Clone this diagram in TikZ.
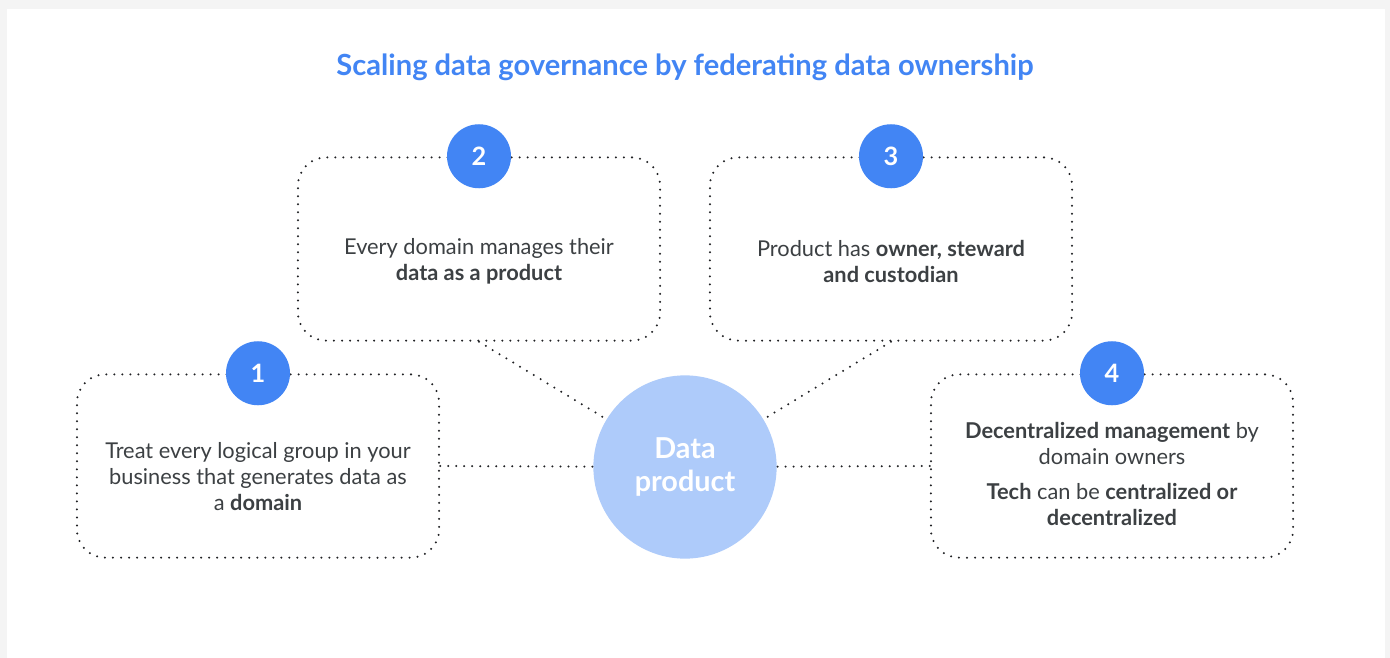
\documentclass[tikz,border=0pt]{standalone}
\usepackage{fontspec}
\setmainfont{Lato}
\usepackage{tikz}
\definecolor{gblue}{HTML}{4285F4}
\definecolor{lblue}{HTML}{AECBFA}
\definecolor{txtgray}{HTML}{3C4043}
\definecolor{dotgray}{HTML}{202124}
\definecolor{pagegray}{HTML}{F4F4F4}
\tikzstyle{box} = [rectangle, draw=dotgray, line width=1.6pt,
                 dash pattern=on 0pt off 5.7pt, line cap=round,
                 rounded corners=20pt, minimum width=9.05cm, minimum height=4.58cm]
\tikzstyle{badge} = [circle, fill=gblue, text=white, inner sep=0pt,
                 minimum size=1.6cm, font=\fontsize{18}{18}\selectfont\bfseries]
\tikzstyle{hub} = [circle, fill=lblue, text=white, inner sep=0pt, align=center,
                 minimum size=4.58cm, font=\fontsize{20.5}{23.5}\selectfont\bfseries]
\tikzstyle{desc} = [text=txtgray, align=center, font=\fontsize{15.5}{18.5}\selectfont]
\tikzstyle{link} = [draw=dotgray, line width=1.6pt,
                 dash pattern=on 0pt off 5.7pt, line cap=round]

\begin{document}
\begin{tikzpicture}[x=0.025cm,y=-0.025cm]

\fill [pagegray] (0,0) rectangle (1390,658);
\fill [white] (7,9) rectangle (1385,658);
\useasboundingbox (0,0) rectangle (1390,658);

\node [text=gblue, font=\fontsize{20.7}{22}\selectfont\bfseries] at (685,67) (title)
	{Scaling data governance by federating data ownership};

\node [hub] at (685,467) (dp) {Data\\product};

\node [box] at (258,466) (b1) {};
\node [box] at (479,249) (b2) {};
\node [box] at (891,249) (b3) {};
\node [box] at (1112,466) (b4) {};

	%connectors
\path [link] (b1.east) -- (dp);
\path [link] (b4.west) -- (dp);
\path [link] (b2.south) -- (dp);
\path [link] (b3.south) -- (dp);

\foreach \n in {1,...,4}
	\node [badge] at (b\n.north) (n\n) {\n};

\node [desc] at (258,477) (t1) {Treat every logical group in your\\
	business that generates data as\\ a \textbf{domain}};
\node [desc] at (479,261) (t2) {Every domain manages their\\ \textbf{data as a product}};
\node [desc] at (891,261) (t3) {Product has \textbf{owner, steward}\\ \textbf{and custodian}};
\node [desc] at (1112,474) (t4) {\textbf{Decentralized management} by\\ domain owners\\[6pt]
	\textbf{Tech} can be \textbf{centralized or}\\ \textbf{decentralized}};

\end{tikzpicture}
\end{document}
